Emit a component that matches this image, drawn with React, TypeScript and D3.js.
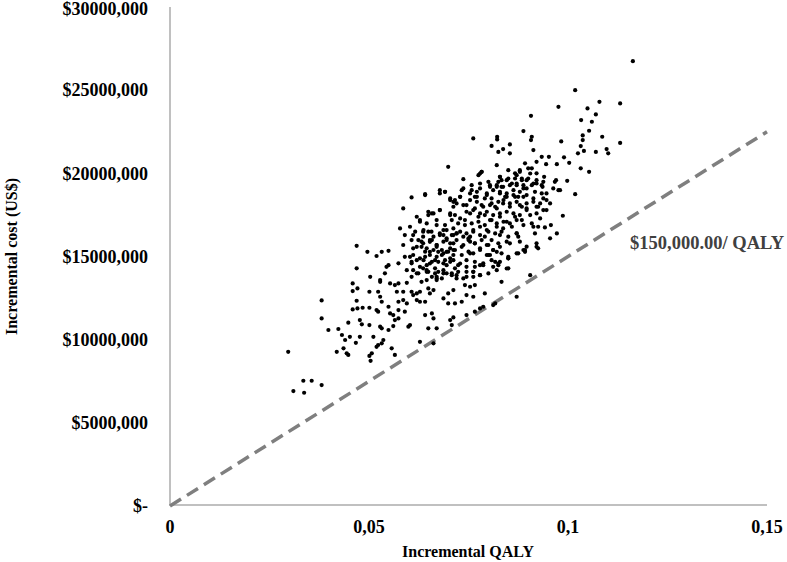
import { useEffect, useRef } from "react";
import * as d3 from "d3";

// [incremental QALY, incremental cost in US$ millions]
const leftTail: [number, number][] = [
  [0.0297, 9.27], [0.031, 6.91], [0.0335, 7.53], [0.0356, 7.53], [0.0337, 6.81],
  [0.0381, 7.27], [0.0381, 12.36], [0.0381, 11.28], [0.0398, 10.58], [0.0423, 10.64],
  [0.0432, 10.28], [0.044, 9.98], [0.0452, 10.17], [0.0419, 9.27], [0.0436, 9.48],
  [0.0444, 9.18], [0.0448, 9.08], [0.0448, 11.02], [0.0459, 13.38], [0.0459, 12.92],
  [0.0471, 13.08], [0.0469, 15.64], [0.0469, 14.29], [0.0469, 12.34], [0.0459, 11.82],
  [0.0471, 11.88], [0.0477, 10.17], [0.0467, 9.81], [0.0496, 15.28], [0.0519, 15.03],
  [0.0532, 15.28], [0.0549, 15.34], [0.0503, 13.78], [0.0501, 12.88], [0.0484, 11.92],
  [0.0501, 11.92], [0.0477, 11.18], [0.0482, 10.92], [0.0501, 10.88], [0.0511, 10.17],
  [0.0519, 9.57], [0.0507, 9.18], [0.0501, 9.02], [0.0504, 8.73], [0.0528, 13.58],
  [0.0528, 13.48], [0.0523, 12.88], [0.0528, 12.58], [0.0532, 12.28], [0.0519, 11.78],
  [0.0523, 11.68], [0.0528, 10.78], [0.0532, 10.68], [0.0536, 9.98], [0.0532, 9.78],
  [0.0523, 9.68], [0.0544, 14.38], [0.054, 13.99], [0.0549, 14.48], [0.0553, 13.38],
  [0.0565, 13.28], [0.0549, 11.98], [0.0561, 11.48], [0.0553, 11.58], [0.0565, 11.18],
  [0.0574, 11.28], [0.0561, 10.82], [0.0549, 10.58], [0.0557, 9.48], [0.0565, 9.08],
  [0.0574, 14.59], [0.0574, 13.38], [0.057, 12.88], [0.0574, 12.28], [0.0574, 11.78],
];

const lowerBand: [number, number][] = [
  [0.0595, 13.42], [0.0586, 12.88], [0.0595, 12.18], [0.0586, 12.38], [0.059, 11.68],
  [0.0599, 10.78], [0.0603, 10.88], [0.0607, 12.88], [0.062, 12.78], [0.0628, 12.88],
  [0.0611, 12.68], [0.062, 12.38], [0.0628, 12.28], [0.0641, 12.28], [0.0628, 9.87],
  [0.0662, 9.78], [0.0641, 11.48], [0.0658, 11.58], [0.0662, 11.28], [0.0649, 10.68],
  [0.067, 10.68], [0.0632, 13.48], [0.0649, 13.08], [0.0662, 12.98], [0.0653, 12.78],
  [0.0645, 13.58], [0.067, 13.58], [0.0833, 13.48], [0.0871, 12.58], [0.0791, 12.78],
  [0.0812, 12.08], [0.0817, 12.18], [0.0779, 11.88], [0.0787, 11.98], [0.0766, 11.68],
  [0.0745, 11.48], [0.0704, 11.18], [0.0712, 11.34], [0.0708, 10.88], [0.0733, 12.28],
  [0.0745, 12.68], [0.0762, 12.58], [0.0754, 13.18], [0.0766, 13.28], [0.0741, 13.28],
  [0.0737, 13.68], [0.0699, 12.78], [0.0712, 12.98], [0.0687, 12.48], [0.0699, 12.18],
  [0.0716, 12.18], [0.0925, 15.49], [0.085, 14.29],
];

const midBand: [number, number][] = [
  [0.0611, 16.29], [0.0607, 15.99], [0.0624, 15.99], [0.062, 15.58], [0.0636, 15.79],
  [0.0603, 14.98], [0.0611, 15.09], [0.062, 14.78], [0.0607, 14.59], [0.0628, 14.38],
  [0.0611, 14.18], [0.0624, 13.99], [0.0607, 13.78], [0.0636, 16.49], [0.0649, 16.49],
  [0.0662, 16.19], [0.0653, 15.88], [0.067, 15.69], [0.0645, 15.49], [0.0674, 15.28],
  [0.0641, 14.98], [0.0653, 15.09], [0.067, 14.98], [0.0658, 14.68], [0.0636, 14.29],
  [0.0649, 14.08], [0.0666, 14.29], [0.0674, 14.08], [0.0658, 13.78], [0.0683, 13.68],
  [0.0687, 16.29], [0.0695, 15.99], [0.0708, 16.29], [0.0712, 15.79], [0.072, 16.39],
  [0.0683, 15.39], [0.0695, 15.28], [0.0704, 15.49], [0.0712, 15.09], [0.0691, 14.78],
  [0.0704, 14.68], [0.0687, 13.99], [0.0708, 13.99], [0.0716, 14.29],
  [0.0892, 15.39], [0.085, 14.89], [0.0796, 15.69], [0.0812, 15.39], [0.0804, 15.09],
  [0.0817, 14.68], [0.0825, 14.48], [0.0829, 15.58], [0.0779, 14.48], [0.0762, 14.08],
  [0.0779, 13.88],
];

const core: [number, number][] = [
  [0.0907, 23.46], [0.0888, 22.54], [0.0909, 22.2], [0.0907, 22.0], [0.0762, 22.1],
  [0.0822, 22.2], [0.0822, 22.04], [0.0808, 21.65], [0.0854, 21.74], [0.0825, 21.29],
  [0.0837, 21.46], [0.0854, 21.2], [0.0913, 21.4], [0.0921, 20.69], [0.0821, 20.49],
  [0.0892, 20.6], [0.09, 20.3], [0.0909, 20.3], [0.0879, 20.19], [0.0699, 20.39],
  [0.0783, 20.09], [0.0775, 19.89], [0.085, 20.19], [0.0867, 20.0], [0.0921, 20.0],
  [0.0737, 19.65], [0.0829, 19.79], [0.0825, 19.49], [0.0846, 19.59], [0.0867, 19.69],
  [0.0884, 19.69], [0.0896, 19.59], [0.0758, 19.29], [0.0779, 19.39], [0.08, 19.49],
  [0.0804, 19.19], [0.0821, 19.19], [0.0837, 19.19], [0.0859, 19.39], [0.0871, 19.29],
  [0.0888, 19.09], [0.0909, 19.29], [0.0921, 19.39], [0.0678, 18.99], [0.0691, 18.89],
  [0.0733, 18.99], [0.0607, 18.55], [0.0641, 18.69], [0.0704, 18.49], [0.0716, 18.39],
  [0.0729, 18.59], [0.0754, 18.79], [0.0771, 18.59], [0.0796, 18.69], [0.0808, 18.49],
  [0.0829, 18.79], [0.0846, 18.59], [0.0863, 18.69], [0.0875, 18.59], [0.0896, 18.69],
  [0.0913, 18.49], [0.0586, 17.89], [0.0678, 17.79], [0.0658, 17.59], [0.0712, 17.99],
  [0.0745, 18.09], [0.0766, 17.89], [0.0787, 17.99], [0.0804, 18.09], [0.0821, 17.89],
  [0.0837, 18.19], [0.0854, 17.99], [0.0879, 18.09], [0.0896, 17.89], [0.0921, 17.99],
  [0.062, 17.39], [0.0649, 17.49], [0.0628, 17.09], [0.0704, 17.49], [0.0729, 17.29],
  [0.0754, 17.59], [0.0775, 17.39], [0.0791, 17.49], [0.0808, 17.19], [0.0829, 17.39],
  [0.0846, 17.09], [0.0867, 17.39], [0.0884, 17.19], [0.0905, 17.49], [0.0578, 16.69],
  [0.0603, 16.79], [0.067, 16.89], [0.0687, 16.59], [0.0712, 16.69], [0.0741, 16.89],
  [0.0762, 16.59], [0.0779, 16.79], [0.08, 16.49], [0.0821, 16.79], [0.0837, 16.69],
  [0.0859, 16.79], [0.0871, 16.39], [0.0913, 16.79], [0.059, 16.29], [0.0616, 16.49],
  [0.0636, 16.19], [0.0658, 15.99], [0.0678, 16.29], [0.0695, 16.09], [0.072, 16.39],
  [0.0737, 16.19], [0.075, 15.99], [0.0766, 15.79], [0.0791, 16.19], [0.0808, 15.99],
  [0.0829, 16.29], [0.0854, 15.79], [0.0875, 16.19], [0.0921, 15.79], [0.0586, 15.69],
  [0.0611, 15.49], [0.0632, 15.58], [0.0653, 15.28], [0.067, 15.58], [0.0687, 15.19],
  [0.0712, 15.39], [0.0733, 15.58], [0.0754, 15.19], [0.0779, 15.49], [0.08, 15.09],
  [0.0821, 15.28], [0.085, 14.98], [0.0875, 15.19], [0.0892, 15.28], [0.0921, 15.58],
  [0.059, 14.98], [0.0607, 14.68], [0.0628, 14.89], [0.0645, 14.48], [0.0666, 14.78],
  [0.0687, 14.59], [0.0704, 14.89], [0.0724, 14.48], [0.0745, 14.78], [0.0766, 14.38],
  [0.0787, 14.59], [0.0812, 14.38], [0.0829, 14.68], [0.0595, 14.18], [0.062, 13.99],
  [0.0645, 14.08], [0.067, 13.78], [0.0695, 13.99], [0.072, 13.88], [0.0745, 14.08],
  [0.0762, 13.78], [0.0905, 13.88],
];

// second pass over the densest part of the cloud
const coreDense: [number, number][] = [
  [0.0779, 19.99], [0.0783, 20.09], [0.0829, 19.79], [0.0833, 19.59], [0.085, 19.69],
  [0.0871, 19.89], [0.0879, 20.09], [0.0884, 19.59], [0.09, 19.69], [0.0905, 19.99],
  [0.0913, 19.39], [0.0921, 19.59], [0.0804, 19.29], [0.0821, 19.29], [0.0833, 19.19],
  [0.0854, 19.29], [0.0871, 19.39], [0.0888, 19.29],
  [0.0641, 18.75], [0.0678, 18.79], [0.0691, 18.89], [0.0737, 19.09], [0.0758, 18.99],
  [0.0771, 18.89], [0.0779, 19.09], [0.0796, 18.79], [0.0812, 18.99], [0.0829, 18.89],
  [0.0846, 18.79], [0.0863, 18.99], [0.0879, 18.89], [0.0896, 19.09], [0.0917, 18.89],
  [0.0729, 18.59], [0.0766, 18.59], [0.0842, 18.59], [0.0867, 18.59], [0.0888, 18.59],
  [0.0704, 18.39], [0.0712, 18.29], [0.072, 18.19], [0.0754, 18.39], [0.0771, 18.29],
  [0.0791, 18.49], [0.0808, 18.19], [0.0825, 18.29], [0.0838, 18.39], [0.0854, 18.19],
  [0.0871, 18.29], [0.0896, 18.19], [0.0913, 18.29], [0.0737, 18.09], [0.0783, 18.09],
  [0.0817, 17.99], [0.0884, 17.99], [0.0925, 17.99],
  [0.0649, 17.69], [0.0662, 17.59], [0.0678, 17.79], [0.0704, 17.59], [0.0716, 17.49],
  [0.0745, 17.69], [0.0762, 17.79], [0.0779, 17.59], [0.0796, 17.69], [0.0812, 17.49],
  [0.0829, 17.59], [0.0846, 17.69], [0.0863, 17.59], [0.0879, 17.49], [0.0896, 17.79],
  [0.0921, 17.59],
  [0.0628, 17.19], [0.0645, 16.99], [0.067, 17.19], [0.0691, 16.89], [0.0708, 17.19],
  [0.0724, 16.99], [0.0741, 17.19], [0.0758, 16.99], [0.0775, 17.09], [0.0791, 16.89],
  [0.0804, 17.19], [0.0821, 16.99], [0.0838, 17.09], [0.0854, 16.99], [0.0871, 17.19],
  [0.0888, 16.89], [0.0909, 16.99],
  [0.0637, 16.59], [0.0657, 16.49], [0.0678, 16.39], [0.0695, 16.59], [0.0712, 16.29],
  [0.0729, 16.49], [0.0745, 16.39], [0.0754, 16.19], [0.0762, 16.49], [0.0779, 16.29],
  [0.0796, 16.59], [0.0817, 16.39], [0.0833, 16.49], [0.085, 16.19], [0.0871, 16.39],
  [0.0917, 16.39], [0.0925, 16.79],
  [0.0632, 15.89], [0.0653, 15.99], [0.067, 15.69], [0.0687, 15.89], [0.0704, 15.79],
  [0.072, 15.99], [0.0737, 15.69], [0.075, 16.09], [0.0754, 15.89], [0.0766, 15.79],
  [0.0783, 15.99], [0.08, 15.69], [0.0825, 15.79], [0.0846, 15.89], [0.0879, 15.89],
  [0.0896, 15.59],
  [0.0641, 15.29], [0.0662, 15.39], [0.0683, 15.09], [0.0699, 15.29], [0.0716, 15.39],
  [0.0733, 15.09], [0.075, 15.29], [0.0762, 15.19], [0.0779, 15.39], [0.0796, 15.09],
  [0.0812, 15.39], [0.0833, 15.19], [0.0871, 15.19], [0.0888, 15.39],
  [0.0637, 14.78], [0.0653, 14.58], [0.0674, 14.68], [0.0695, 14.48], [0.0712, 14.78],
  [0.0729, 14.58], [0.0745, 14.38], [0.0766, 14.68], [0.0787, 14.48], [0.0808, 14.78],
  [0.0825, 14.58], [0.085, 14.89], [0.0846, 14.28],
  [0.0645, 14.18], [0.0666, 13.98], [0.0687, 14.18], [0.0708, 13.88], [0.0724, 14.08],
  [0.0745, 13.78], [0.0762, 14.08], [0.0779, 13.88], [0.08, 13.98], [0.0821, 14.18],
  [0.067, 13.68], [0.072, 13.68],
];

const rightTail: [number, number][] = [
  [0.1163, 26.74], [0.1018, 25.0], [0.1131, 24.2], [0.1079, 24.3], [0.1049, 23.9],
  [0.0976, 24.0], [0.107, 23.54], [0.106, 23.1], [0.1033, 23.2], [0.1053, 22.56],
  [0.1037, 22.28], [0.1037, 22.0], [0.1086, 22.2], [0.1032, 21.64], [0.104, 21.35],
  [0.1025, 21.2], [0.107, 21.29], [0.1097, 21.46], [0.1101, 21.2], [0.1131, 21.83],
  [0.0983, 21.92], [0.099, 20.96], [0.1003, 20.63], [0.0934, 20.99], [0.0952, 20.99],
  [0.0972, 20.55], [0.0945, 20.55], [0.1032, 20.3], [0.1053, 20.09], [0.094, 19.79],
  [0.0938, 19.49], [0.0934, 19.29], [0.097, 19.59], [0.0967, 19.49], [0.0998, 19.55],
  [0.0936, 19.19], [0.0963, 19.09], [0.0976, 18.99], [0.098, 18.99], [0.0934, 18.79],
  [0.0946, 18.79], [0.0938, 18.49], [0.0946, 18.39], [0.0955, 18.19], [0.093, 18.19],
  [0.0938, 17.79], [0.1018, 18.75], [0.0987, 17.45], [0.0942, 16.75], [0.0957, 16.89],
  [0.0972, 16.39], [0.0955, 16.09], [0.093, 17.29], [0.0946, 17.79],
];

const costTicks = [0, 5, 10, 15, 20, 25, 30];
const qalyTicks = [0, 0.05, 0.1, 0.15];
const wtp = 150; // threshold slope in axis units (US$ millions per QALY)

export default function App() {
  const svgRef = useRef<SVGSVGElement>(null);

  useEffect(() => {
    if (!svgRef.current) return;
    document.body.style.margin = "0";

    const svg = d3.select(svgRef.current);
    svg.selectAll("*").remove();

    const width = 787;
    const height = 562;
    const font = "'Liberation Serif', 'Times New Roman', serif";

    svg.attr("width", width).attr("height", height);

    const x = d3.scaleLinear().domain([0, 0.15]).range([170, 767]);
    const y = d3.scaleLinear().domain([0, 30]).range([506, 7]);

    // axis lines
    svg
      .append("line")
      .attr("x1", x(0))
      .attr("x2", x(0))
      .attr("y1", y(30))
      .attr("y2", y(0))
      .attr("stroke", "#c0c0c0")
      .attr("stroke-width", 2);
    svg
      .append("line")
      .attr("x1", x(0))
      .attr("x2", x(0.15))
      .attr("y1", y(0) - 1)
      .attr("y2", y(0) - 1)
      .attr("stroke", "#c0c0c0")
      .attr("stroke-width", 2);

    // y tick labels
    svg
      .selectAll(".ytick")
      .data(costTicks)
      .enter()
      .append("text")
      .attr("x", 148)
      .attr("y", (d) => Math.max(y(d), 9))
      .attr("dy", "0.35em")
      .attr("text-anchor", "end")
      .attr("font-family", font)
      .attr("font-weight", "bold")
      .attr("font-size", "18px")
      .text((d) => (d === 0 ? "$-" : `$${d * 1000},000`));

    // x tick labels
    svg
      .selectAll(".xtick")
      .data(qalyTicks)
      .enter()
      .append("text")
      .attr("x", (d) => x(d))
      .attr("y", 533)
      .attr("text-anchor", "middle")
      .attr("font-family", font)
      .attr("font-weight", "bold")
      .attr("font-size", "18px")
      .text((d) => String(d).replace(".", ","));

    // axis titles
    svg
      .append("text")
      .attr("x", 468)
      .attr("y", 557)
      .attr("text-anchor", "middle")
      .attr("font-family", font)
      .attr("font-weight", "bold")
      .attr("font-size", "16px")
      .text("Incremental QALY");

    svg
      .append("text")
      .attr("transform", `translate(17, ${y(15)}) rotate(-90)`)
      .attr("text-anchor", "middle")
      .attr("font-family", font)
      .attr("font-weight", "bold")
      .attr("font-size", "16px")
      .text("Incremental cost (US$)");

    // willingness-to-pay threshold
    svg
      .append("line")
      .attr("x1", x(0))
      .attr("y1", y(0))
      .attr("x2", x(0.15))
      .attr("y2", y(0.15 * wtp))
      .attr("stroke", "#7f7f7f")
      .attr("stroke-width", 3.5)
      .attr("stroke-dasharray", "13,7");

    svg
      .append("text")
      .attr("x", 630)
      .attr("y", 249)
      .attr("font-family", font)
      .attr("font-weight", "bold")
      .attr("font-size", "18.5px")
      .attr("fill", "#404040")
      .text("$150,000.00/ QALY");

    // simulations
    const pts = [
      ...leftTail,
      ...lowerBand,
      ...midBand,
      ...core,
      ...coreDense,
      ...rightTail,
    ];
    svg
      .append("g")
      .selectAll("circle")
      .data(pts)
      .enter()
      .append("circle")
      .attr("cx", (d) => x(d[0]))
      .attr("cy", (d) => y(d[1]))
      .attr("r", 2.1)
      .attr("fill", "#000");
  }, []);

  return <svg ref={svgRef}></svg>;
}
